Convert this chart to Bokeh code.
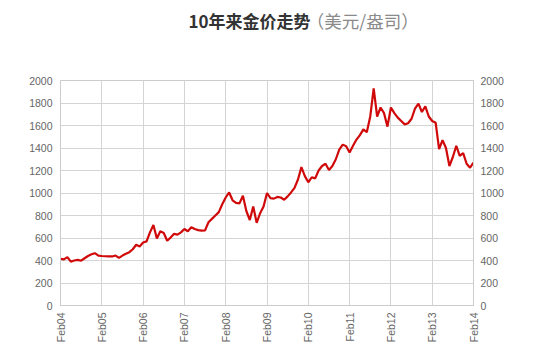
from bokeh.plotting import figure
from bokeh.models import Range1d, LinearAxis, FixedTicker
from bokeh.layouts import column
from bokeh.core.properties import value
from bokeh.embed import file_html
from bokeh.resources import INLINE
import math

# months since Feb 2004
tick_labels = ["Feb04", "Feb05", "Feb06", "Feb07", "Feb08", "Feb09",
               "Feb10", "Feb11", "Feb12", "Feb13", "Feb14"]
tick_months = [0, 12, 24, 36, 48, 60, 72, 84, 96, 108, 120]

prices = [
    415, 410, 430, 390, 400, 405, 398, 420, 440, 455, 465, 444,   # 2004-02 .. 2005-01
    440, 438, 437, 436, 444, 424, 444, 459, 474, 500, 540, 525,   # 2005-02 .. 2006-01
    560, 570, 650, 715, 595, 660, 645, 575, 605, 637, 630, 650,   # 2006-02 .. 2007-01
    680, 660, 695, 680, 670, 665, 668, 740, 770, 800, 830, 900,   # 2007-02 .. 2008-01
    960, 1005, 935, 912, 908, 975, 840, 760, 880, 735, 820, 880,  # 2008-02 .. 2009-01
    1000, 955, 950, 965, 960, 940, 970, 1005, 1045, 1120, 1230, 1150,  # 2009-02 .. 2010-01
    1095, 1140, 1130, 1200, 1240, 1260, 1205, 1240, 1300, 1385, 1430, 1415,  # 2010-02 .. 2011-01
    1360, 1420, 1475, 1515, 1565, 1540, 1680, 1930, 1680, 1760, 1710, 1590,  # 2011-02 .. 2012-01
    1760, 1710, 1670, 1640, 1610, 1620, 1660, 1750, 1795, 1720, 1770, 1680,  # 2012-02 .. 2013-01
    1640, 1625, 1390, 1470, 1400, 1240, 1320, 1420, 1330, 1355, 1260, 1225,  # 2013-02 .. 2014-01
    1270,                                                          # 2014-02
]
months = list(range(len(prices)))

y_ticks = list(range(0, 2001, 200))

title_main = "10年来金价走势"
title_unit = "（美元/盎司）"

# ---- title strip ----
t = figure(width=550, height=70, output_backend="svg", toolbar_location=None,
           x_range=Range1d(0, 550), y_range=Range1d(70, 0),
           x_axis_type=None, y_axis_type=None,
           min_border=0, min_border_left=0, min_border_right=0,
           min_border_top=0, min_border_bottom=0)
t.grid.visible = False
t.outline_line_color = None
t.background_fill_color = "white"
t.border_fill_color = "white"
t.text(x=[333], y=[19.5], text=[title_main], text_font=value("Noto Sans CJK SC"),
       text_font_size="17px", text_font_style="bold", text_color="#333333",
       text_baseline="middle", text_align="right")
t.text(x=[328], y=[19.5], text=[title_unit], text_font=value("Noto Sans CJK SC"),
       text_font_size="17.5px", text_color="#8a8a8a",
       text_baseline="middle", text_align="left")

# ---- main chart ----
p = figure(width=550, height=286, output_backend="svg", toolbar_location=None,
           x_range=Range1d(0, 120), y_range=Range1d(0, 2000),
           min_border_left=60, min_border_right=77, min_border_top=10,
           min_border_bottom=51)
p.background_fill_color = "white"
p.border_fill_color = "white"
p.outline_line_color = "#cccccc"
p.outline_line_width = 1

p.line(months, prices, line_color="#d00a0a", line_width=2.2)

for ax in p.xaxis:
    ax.ticker = FixedTicker(ticks=tick_months)
    ax.major_label_overrides = {m: l for m, l in zip(tick_months, tick_labels)}
    ax.major_label_orientation = math.pi / 2
    ax.major_tick_out = 0
    ax.major_tick_in = 0
    ax.minor_tick_out = 0
    ax.minor_tick_in = 0
    ax.axis_line_color = "#cccccc"
    ax.major_label_text_font = "Liberation Sans"
    ax.major_label_text_font_size = "10.5px"
    ax.major_label_text_color = "#666666"
    ax.major_label_standoff = 7

for ax in p.yaxis:
    ax.ticker = FixedTicker(ticks=y_ticks)
    ax.major_tick_out = 0
    ax.major_tick_in = 0
    ax.minor_tick_out = 0
    ax.minor_tick_in = 0
    ax.axis_line_color = "#cccccc"
    ax.major_label_text_font = "Liberation Sans"
    ax.major_label_text_font_size = "10.5px"
    ax.major_label_text_color = "#666666"
    ax.major_label_standoff = 8

right = LinearAxis(ticker=FixedTicker(ticks=y_ticks))
right.major_tick_out = 0
right.major_tick_in = 0
right.minor_tick_out = 0
right.minor_tick_in = 0
right.axis_line_color = "#cccccc"
right.major_label_text_font = "Liberation Sans"
right.major_label_text_font_size = "10.5px"
right.major_label_text_color = "#666666"
right.major_label_standoff = 7
p.add_layout(right, "right")

p.xgrid.ticker = FixedTicker(ticks=tick_months)
p.ygrid.ticker = FixedTicker(ticks=y_ticks)
p.xgrid.grid_line_color = "#d4d4d4"
p.ygrid.grid_line_color = "#d4d4d4"

layout = column(t, p, spacing=0)
open("out.html", "w").write(file_html(layout, INLINE))
